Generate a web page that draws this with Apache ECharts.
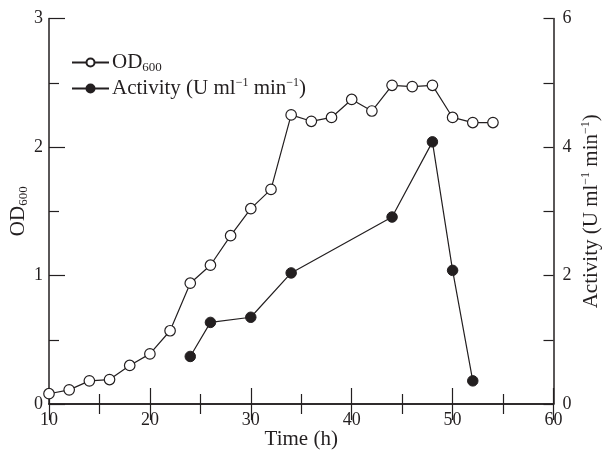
<!DOCTYPE html>
<html>
<head>
<meta charset="utf-8">
<script src="https://cdn.jsdelivr.net/npm/echarts@6/dist/echarts.min.js"></script>
<style>html,body{margin:0;padding:0;background:#fff}#c{width:603px;height:453px}</style>
</head>
<body>
<div id="c"></div>
<script>
const odTime = [10, 12, 14, 16, 18, 20, 22, 24, 26, 28, 30, 32, 34, 36, 38, 40, 42, 44, 46, 48, 50, 52, 54];
const odValues = [0.08, 0.11, 0.18, 0.19, 0.30, 0.39, 0.57, 0.94, 1.08, 1.31, 1.52, 1.67, 2.25, 2.20, 2.23, 2.37, 2.28, 2.48, 2.47, 2.48, 2.23, 2.19, 2.19];
const actTime = [24, 26, 30, 34, 44, 48, 50, 52];
const actValues = [0.74, 1.27, 1.35, 2.04, 2.91, 4.08, 2.08, 0.36];

const FONT = '"Liberation Serif", "DejaVu Serif", serif';
const INK = '#231f20';
const FS = 18;
const NFS = 21;
const rich = {
  a: {fontFamily: FONT, fontSize: NFS, color: INK, lineHeight: 24},
  sub: {fontFamily: FONT, fontSize: 13, color: INK, lineHeight: 13, verticalAlign: 'bottom'},
  sup: {fontFamily: FONT, fontSize: 12, color: INK, lineHeight: 14, verticalAlign: 'top'}
};

const chart = echarts.init(document.getElementById('c'), null, {renderer: 'canvas'});
const axisLineStyle = {color: INK, width: 1.5};
const labelStyle = {fontFamily: FONT, fontSize: FS, color: INK};

chart.setOption({
  animation: false,
  backgroundColor: '#fff',
  textStyle: {fontFamily: FONT},
  grid: {left: 49, right: 49.5, top: 18.5, bottom: 49, containLabel: false, outerBoundsMode: 'none'},
  legend: {
    orient: 'vertical',
    left: 66,
    top: 47,
    itemWidth: 37,
    itemHeight: 10,
    itemGap: 2,
    data: ['OD600', 'Activity'],
    formatter: function (name) {
      return name === 'OD600' ? '{a|OD}{sub|600}' : '{a|Activity (U ml}{sup|−1}{a| min}{sup|−1}{a|)}';
    },
    textStyle: {fontFamily: FONT, fontSize: NFS, color: INK, rich: rich, padding: [0, 0, 0, -2]}
  },
  xAxis: [{
    type: 'value', min: 10, max: 60, interval: 10, position: 'bottom',
    name: 'Time (h)', nameLocation: 'middle', nameGap: 25, nameMoveOverlap: false,
    nameTextStyle: {fontFamily: FONT, fontSize: NFS, color: INK},
    axisLine: {show: true, lineStyle: axisLineStyle},
    axisTick: {show: true, inside: true, length: 16, lineStyle: {color: INK, width: 1.2}},
    minorTick: {show: true, splitNumber: 2, length: 10, lineStyle: {color: INK, width: 1.2}},
    axisLabel: Object.assign({margin: 7}, labelStyle),
    splitLine: {show: false}, minorSplitLine: {show: false}
  }, {
    type: 'value', min: 10, max: 60, interval: 10, position: 'top',
    axisLine: {show: true, lineStyle: axisLineStyle},
    axisTick: {show: true, inside: true, length: 16, lineStyle: {color: INK, width: 1.2}},
    minorTick: {show: true, splitNumber: 2, length: 10, lineStyle: {color: INK, width: 1.2}},
    axisLabel: {show: false},
    splitLine: {show: false}
  }],
  yAxis: [{
    type: 'value', min: 0, max: 3, interval: 1, position: 'left',
    name: '{a|OD}{sub|600}', nameLocation: 'middle', nameGap: 19, nameRotate: 90, nameMoveOverlap: false,
    nameTextStyle: {rich: rich},
    axisLine: {show: true, lineStyle: axisLineStyle},
    axisTick: {show: true, inside: true, length: 16, lineStyle: {color: INK, width: 1.2}},
    minorTick: {show: true, splitNumber: 2, length: 10, lineStyle: {color: INK, width: 1.2}},
    axisLabel: Object.assign({margin: 6}, labelStyle),
    splitLine: {show: false}
  }, {
    type: 'value', min: 0, max: 6, interval: 1, position: 'right',
    name: '{a|Activity (U ml}{sup|−1}{a| min}{sup|−1}{a|)}', nameLocation: 'middle', nameGap: 26, nameRotate: 90, nameMoveOverlap: false,
    nameTextStyle: {rich: rich},
    axisLine: {show: true, lineStyle: axisLineStyle},
    axisTick: {show: true, inside: true, length: 10, lineStyle: {color: INK, width: 1.2}},
    axisLabel: Object.assign({margin: 9, formatter: function (v) { return v % 2 === 0 ? String(v) : ''; }}, labelStyle),
    splitLine: {show: false}
  }],
  series: [{
    name: 'OD600', type: 'line', xAxisIndex: 0, yAxisIndex: 0,
    data: odTime.map((t, i) => [t, odValues[i]]),
    symbol: 'circle', symbolSize: 10.5, showSymbol: true,
    lineStyle: {color: INK, width: 1.2},
    itemStyle: {color: '#fff', borderColor: INK, borderWidth: 1.2},
    z: 3
  }, {
    name: 'Activity', type: 'line', xAxisIndex: 0, yAxisIndex: 1,
    data: actTime.map((t, i) => [t, actValues[i]]),
    symbol: 'circle', symbolSize: 10.5, showSymbol: true,
    lineStyle: {color: INK, width: 1.2},
    itemStyle: {color: INK, borderColor: INK, borderWidth: 1},
    z: 3
  }]
});
</script>
</body>
</html>
